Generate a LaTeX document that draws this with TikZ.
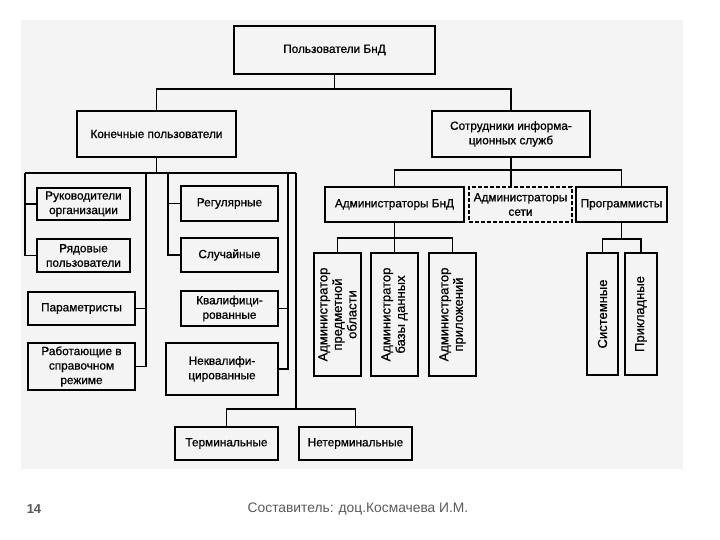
\documentclass[tikz,border=0pt]{standalone}
\usepackage{fontspec}
\setmainfont{Liberation Sans}
\newfontfamily\scanfont{Liberation Sans}[FakeBold=0.8]
\usetikzlibrary{positioning}
\definecolor{bgc}{HTML}{F4F4F4}
\definecolor{foot}{HTML}{595959}

\begin{document}
\begin{tikzpicture}[x=1pt,y=-1pt,
	blk/.style={draw,line width=1.8pt,align=center,inner sep=2pt,font=\scanfont\fontsize{11.8}{14.5}\selectfont},
	vblk/.style={blk,rotate=90,font=\scanfont\fontsize{13}{14.5}\selectfont},
	dblk/.style={blk,dash pattern=on 4pt off 2pt},
	ln/.style={line width=1.8pt}]

	\useasboundingbox (0,0) rectangle (720,540);
	\fill[bgc] (21,20) rectangle (683,469);

	\node[blk,minimum width=201pt,minimum height=48pt] (top) at (334.5,50) {Пользователи БнД};
	\node[blk,minimum width=159pt,minimum height=46pt] (kp) at (156.5,134) {Конечные пользователи};
	\node[blk,minimum width=158pt,minimum height=46pt] (sis) at (511,134) {Сотрудники информа-\\ционных служб};

	\node[blk,minimum width=93pt,minimum height=32pt] (ruk) at (83.5,204) {Руководители\\организации};
	\node[blk,minimum width=93pt,minimum height=33pt] (ryad) at (83.5,255.5) {Рядовые\\пользователи};
	\node[blk,minimum width=107pt,minimum height=33pt] (param) at (81.5,308.5) {Параметристы};
	\node[blk,minimum width=107pt,minimum height=47pt] (rab) at (81.5,366.5) {Работающие в\\справочном\\режиме};

	\node[blk,minimum width=97pt,minimum height=35pt] (reg) at (229.5,203.5) {Регулярные};
	\node[blk,minimum width=97pt,minimum height=34pt] (sluch) at (229.5,255) {Случайные};
	\node[blk,minimum width=97pt,minimum height=35pt] (kval) at (229.5,308.5) {Квалифици-\\рованные};
	\node[blk,minimum width=112pt,minimum height=52pt] (nekval) at (222,369) {Неквалифи-\\цированные};

	\node[blk,minimum width=103pt,minimum height=33pt] (term) at (226.5,443.5) {Терминальные};
	\node[blk,minimum width=113pt,minimum height=33pt] (neterm) at (355.5,443.5) {Нетерминальные};

	\node[blk,minimum width=139pt,minimum height=35pt] (abnd) at (394.5,204.5) {Администраторы БнД};
	\node[dblk,minimum width=103pt,minimum height=35pt] (aset) at (520.5,204.5) {Администраторы\\сети};
	\node[blk,minimum width=91pt,minimum height=35pt] (prog) at (621.5,204.5) {Программисты};

	\node[vblk,minimum width=123pt,minimum height=47pt] (apo) at (337.5,314.5) {Администратор\\предметной\\области};
	\node[vblk,minimum width=123pt,minimum height=47pt] (abd) at (394.5,314.5) {Администратор\\базы данных};
	\node[vblk,minimum width=123pt,minimum height=47pt] (apr) at (452.5,314.5) {Администратор\\приложений};
	\node[vblk,minimum width=122pt,minimum height=31pt] (sys) at (602.5,314) {Системные};
	\node[vblk,minimum width=122pt,minimum height=32pt] (prik) at (641,314) {Прикладные};

	\draw[ln] (top.south) -- ++(0,14) coordinate (t0);
	\draw[ln] (kp.north) |- (t0) -| (sis.north);

	\draw[ln] (kp.south) -- ++(0,16);
	\coordinate (k1) at (25,173);
	\coordinate (k2) at (146,173);
	\coordinate (k3) at (168,173);
	\coordinate (k4) at (288,173);
	\coordinate (k5) at (296,173);
	\draw[ln] (k1) -- (k5);
	\draw[ln] (k1) |- (ruk.west);
	\draw[ln] (k1) |- (ryad.west);
	\draw[ln] (k2) |- (param.east);
	\draw[ln] (k2) |- (rab.east);
	\draw[ln] (k3) |- (reg.west);
	\draw[ln] (k3) |- (sluch.west);
	\draw[ln] (k4) |- (kval.east);
	\draw[ln] (k4) |- (nekval.east);
	\coordinate (n0) at (296,409);
	\draw[ln] (k5) -- (n0);
	\draw[ln] (term.north) |- (n0) -| (neterm.north);

	\draw[ln] (sis.south) -- (sis.south |- aset.north);
	\coordinate (s0) at (511,170);
	\draw[ln] (abnd.north) |- (s0) -| (prog.north);
	\draw[ln] (abnd.south) -- (abd.east);
	\coordinate (a0) at (394.5,238);
	\draw[ln] (apo.east) |- (a0) -| (apr.east);
	\draw[ln] (prog.south) -- ++(0,16) coordinate (p0);
	\draw[ln] (sys.east) |- (p0) -| (prik.east);

	\node[font=\fontsize{13}{15}\selectfont\bfseries,text=foot] (pg) at (34,509) {14};
	\node[font=\fontsize{13.8}{16}\selectfont,text=foot] (auth) at (358,509) {Составитель: доц.Космачева И.М.};
\end{tikzpicture}
\end{document}
